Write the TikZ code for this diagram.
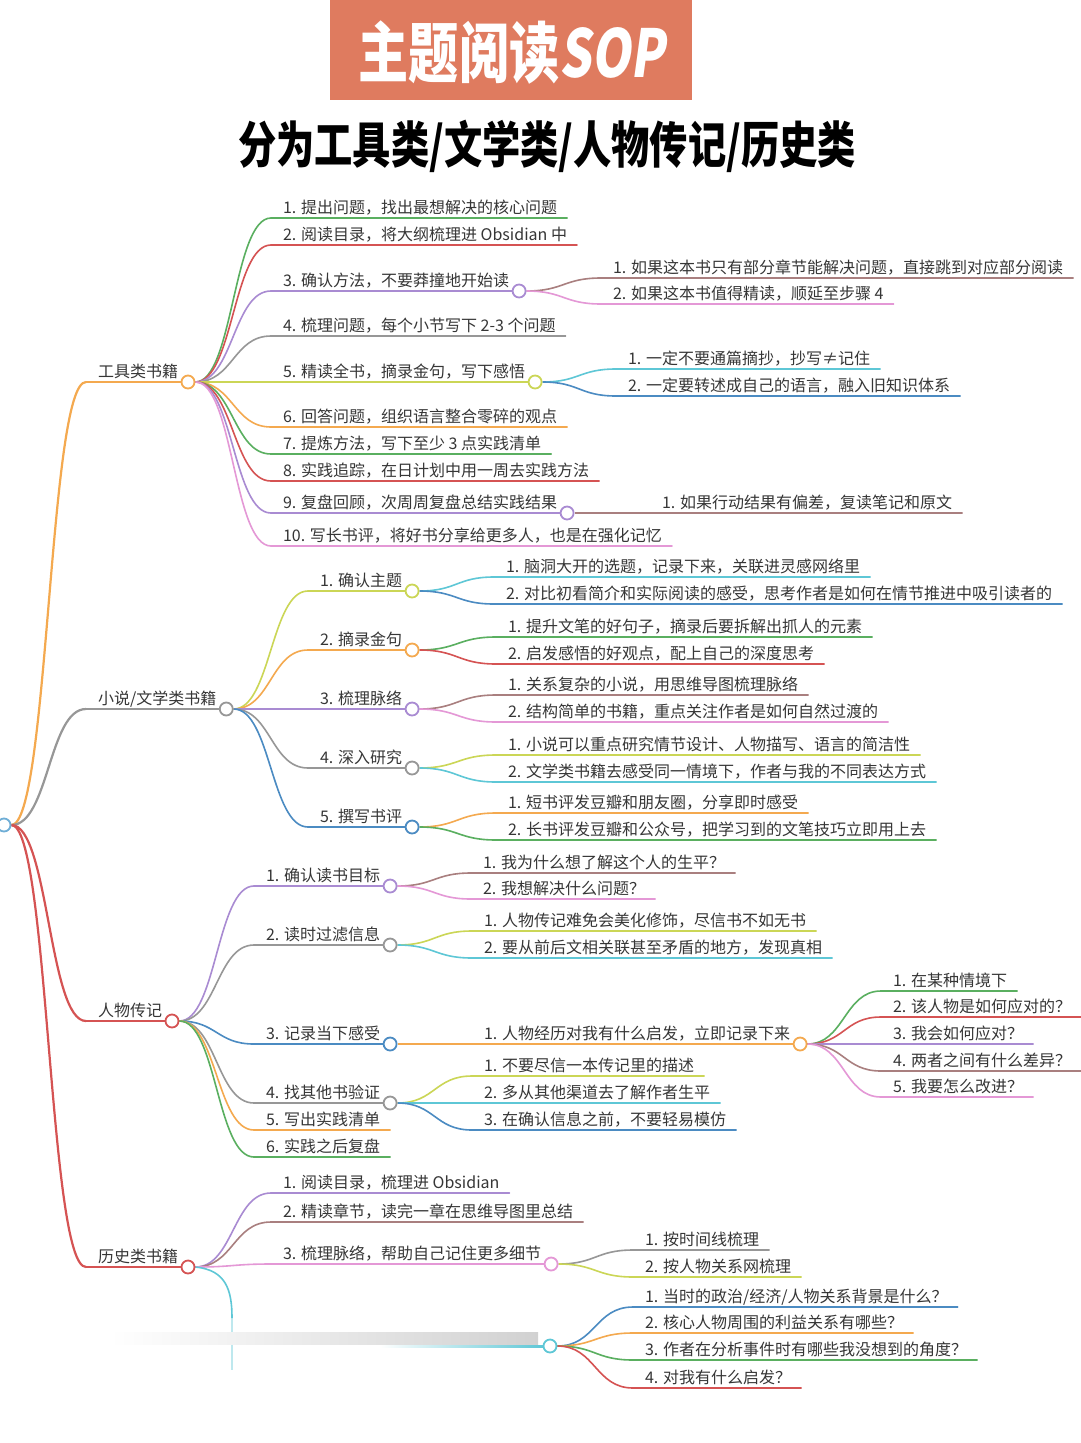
\documentclass[tikz,border=0pt]{standalone}
\usepackage{fontspec}
\newfontfamily\cjk{Noto Sans CJK SC}
\newfontfamily\cjksl{Noto Sans CJK SC}[FakeSlant=0.18]
\usetikzlibrary{calc}
\pgfdeclarelayer{back}
\pgfdeclarelayer{bg}
\pgfsetlayers{back,bg,main}
\definecolor{txt}{HTML}{363636}
\definecolor{titlebg}{HTML}{DF7B5F}
\definecolor{croot}{HTML}{6FAED6}
\definecolor{cgreen}{HTML}{5AAF60}
\definecolor{cred}{HTML}{D55353}
\definecolor{cpurple}{HTML}{A98BD2}
\definecolor{cgray}{HTML}{979797}
\definecolor{clime}{HTML}{CBD656}
\definecolor{corange}{HTML}{F4A94F}
\definecolor{cpink}{HTML}{E498D6}
\definecolor{cbrown}{HTML}{A97F7F}
\definecolor{ccyan}{HTML}{5EC7D6}
\definecolor{cblue}{HTML}{4B8BC2}
\tikzset{
  lbl/.style={anchor=base west, inner sep=0pt, outer sep=0pt, text=txt, font=\cjk\fontsize{16}{16}\selectfont},
  dot/.style={circle, minimum size=13pt, inner sep=0pt, line width=1.8pt, fill=white},
  ul/.style={line width=1.6pt, line cap=round},
  cnl/.style={line width=1.6pt},
  cnr/.style={line width=2.2pt},
}
% leaf: name, xstart, yline, colour, text
\newcommand\lf[5]{%
  \coordinate (#1s) at (#2,#3);
  \node[lbl] (#1) at (#2+12,#3-5) {#5};
  \coordinate (#1e) at ($(#1.east |- #1s)+(10,0)$);
  \begin{pgfonlayer}{bg}\draw[ul,#4] (#1s) -- (#1e);\end{pgfonlayer}}
% branch with circle: name, xstart, yline, colour, text
\newcommand\br[5]{%
  \coordinate (#1s) at (#2,#3);
  \node[lbl] (#1) at (#2+12,#3-5) {#5};
  \node[dot,draw=#4] (#1c) at ($(#1.east |- #1s)+(10,0)$) {};
  \begin{pgfonlayer}{bg}\draw[ul,#4] (#1s) -- (#1c);\end{pgfonlayer}}
% connector: from, to, style
\newcommand\cn[3]{%
  \begin{pgfonlayer}{bg}\draw[cnl,#3] let \p1=(#1), \p2=(#2) in
  (\p1) .. controls ({(\x1+\x2)/2},\y1) and ({(\x1+\x2)/2},\y2) .. (\p2);\end{pgfonlayer}}
\begin{document}
\begin{tikzpicture}[x=1pt,y=-1pt]
\begin{pgfonlayer}{back}
\fill[white] (0,0) rectangle (1080,1443);
\end{pgfonlayer}
\useasboundingbox (0,0) rectangle (1080,1443);
% title
\fill[titlebg] (330,0) rectangle (692,100);
\node[text=white, font=\cjk\bfseries\fontsize{66}{66}\selectfont, inner sep=0pt] (title) at (512,53)
  {\scalebox{0.76}[1]{主题阅读{\cjksl\bfseries SOP}}};
\node[text=black, font=\cjk\bfseries\fontsize{50}{50}\selectfont, inner sep=0pt] (subtitle) at (547,146)
  {\scalebox{0.765}[1]{分为工具类/文学类/人物传记/历史类}};
% root
\node[dot,draw=croot] (R) at (4,825) {};
% level 1
\br{A}{86}{382}{corange}{工具类书籍}
\br{B}{86}{709}{cgray}{小说/文学类书籍}
\br{C}{86}{1021}{cred}{人物传记}
\br{D}{86}{1267}{cred}{历史类书籍}
\cn{R.east}{As}{corange,cnr}
\cn{R.east}{Bs}{cgray,cnr}
\cn{R.east}{Cs}{cred,cnr}
\cn{R.east}{Ds}{cred,cnr}
% ---- A: tools
\lf{A1}{271}{218}{cgreen}{1. 提出问题，找出最想解决的核心问题}
\lf{A2}{271}{245}{cred}{2. 阅读目录，将大纲梳理进 Obsidian 中}
\br{A3}{271}{291}{cpurple}{3. 确认方法，不要莽撞地开始读}
\lf{A4}{271}{336}{cgray}{4. 梳理问题，每个小节写下 2-3 个问题}
\br{A5}{271}{382}{clime}{5. 精读全书，摘录金句，写下感悟}
\lf{A6}{271}{427}{corange}{6. 回答问题，组织语言整合零碎的观点}
\lf{A7}{271}{454}{cgreen}{7. 提炼方法，写下至少 3 点实践清单}
\lf{A8}{271}{481}{cred}{8. 实践追踪，在日计划中用一周去实践方法}
\br{A9}{271}{513}{cpurple}{9. 复盘回顾，次周周复盘总结实践结果}
\lf{A10}{271}{546}{cpink}{10. 写长书评，将好书分享给更多人，也是在强化记忆}
\cn{Ac.east}{A1s}{cgreen}
\cn{Ac.east}{A2s}{cred}
\cn{Ac.east}{A3s}{cpurple}
\cn{Ac.east}{A4s}{cgray}
\cn{Ac.east}{A5s}{clime}
\cn{Ac.east}{A6s}{corange}
\cn{Ac.east}{A7s}{cgreen}
\cn{Ac.east}{A8s}{cred}
\cn{Ac.east}{A9s}{cpurple}
\cn{Ac.east}{A10s}{cpink}
\lf{A3a}{601}{278}{cbrown}{1. 如果这本书只有部分章节能解决问题，直接跳到对应部分阅读}
\lf{A3b}{601}{304}{cpink}{2. 如果这本书值得精读，顺延至步骤 4}
\cn{A3c.east}{A3as}{cbrown}
\cn{A3c.east}{A3bs}{cpink}
\lf{A5a}{616}{369}{ccyan}{1. 一定不要通篇摘抄，抄写≠记住}
\lf{A5b}{616}{396}{cblue}{2. 一定要转述成自己的语言，融入旧知识体系}
\cn{A5c.east}{A5as}{ccyan}
\cn{A5c.east}{A5bs}{cblue}
\lf{A9a}{650}{513}{cbrown}{1. 如果行动结果有偏差，复读笔记和原文}
\cn{A9c.east}{A9as}{cbrown}
% ---- B: fiction
\br{B1}{308}{591}{clime}{1. 确认主题}
\br{B2}{308}{650}{corange}{2. 摘录金句}
\br{B3}{308}{709}{cpurple}{3. 梳理脉络}
\br{B4}{308}{768}{cgray}{4. 深入研究}
\br{B5}{308}{827}{cblue}{5. 撰写书评}
\cn{Bc.east}{B1s}{clime}
\cn{Bc.east}{B2s}{corange}
\cn{Bc.east}{B3s}{cpurple}
\cn{Bc.east}{B4s}{cgray}
\cn{Bc.east}{B5s}{cblue}
\lf{B1a}{494}{577}{ccyan}{1. 脑洞大开的选题，记录下来，关联进灵感网络里}
\lf{B1b}{494}{604}{cblue}{2. 对比初看简介和实际阅读的感受，思考作者是如何在情节推进中吸引读者的}
\cn{B1c.east}{B1as}{ccyan}
\cn{B1c.east}{B1bs}{cblue}
\lf{B2a}{496}{637}{cgreen}{1. 提升文笔的好句子，摘录后要拆解出抓人的元素}
\lf{B2b}{496}{664}{cred}{2. 启发感悟的好观点，配上自己的深度思考}
\cn{B2c.east}{B2as}{cgreen}
\cn{B2c.east}{B2bs}{cred}
\lf{B3a}{496}{695}{cbrown}{1. 关系复杂的小说，用思维导图梳理脉络}
\lf{B3b}{496}{722}{cpink}{2. 结构简单的书籍，重点关注作者是如何自然过渡的}
\cn{B3c.east}{B3as}{cbrown}
\cn{B3c.east}{B3bs}{cpink}
\lf{B4a}{496}{755}{clime}{1. 小说可以重点研究情节设计、人物描写、语言的简洁性}
\lf{B4b}{496}{782}{ccyan}{2. 文学类书籍去感受同一情境下，作者与我的不同表达方式}
\cn{B4c.east}{B4as}{clime}
\cn{B4c.east}{B4bs}{ccyan}
\lf{B5a}{496}{813}{corange}{1. 短书评发豆瓣和朋友圈，分享即时感受}
\lf{B5b}{496}{840}{cgreen}{2. 长书评发豆瓣和公众号，把学习到的文笔技巧立即用上去}
\cn{B5c.east}{B5as}{corange}
\cn{B5c.east}{B5bs}{cgreen}
% ---- C: biography
\br{C1}{254}{886}{cpurple}{1. 确认读书目标}
\br{C2}{254}{945}{cgray}{2. 读时过滤信息}
\br{C3}{254}{1044}{cblue}{3. 记录当下感受}
\br{C4}{254}{1103}{cgray}{4. 找其他书验证}
\lf{C5}{254}{1130}{corange}{5. 写出实践清单}
\lf{C6}{254}{1157}{cgreen}{6. 实践之后复盘}
\cn{Cc.east}{C1s}{cpurple}
\cn{Cc.east}{C2s}{cgray}
\cn{Cc.east}{C3s}{cblue}
\cn{Cc.east}{C4s}{cgray}
\cn{Cc.east}{C5s}{corange}
\cn{Cc.east}{C6s}{cgreen}
\lf{C1a}{471}{873}{cbrown}{1. 我为什么想了解这个人的生平？}
\lf{C1b}{471}{899}{cpink}{2. 我想解决什么问题？}
\cn{C1c.east}{C1as}{cbrown}
\cn{C1c.east}{C1bs}{cpink}
\lf{C2a}{472}{931}{clime}{1. 人物传记难免会美化修饰，尽信书不如无书}
\lf{C2b}{472}{958}{ccyan}{2. 要从前后文相关联甚至矛盾的地方，发现真相}
\cn{C2c.east}{C2as}{clime}
\cn{C2c.east}{C2bs}{ccyan}
\br{C3a}{472}{1044}{corange}{1. 人物经历对我有什么启发，立即记录下来}
\cn{C3c.east}{C3as}{corange}
\lf{C3a1}{881}{991}{cgreen}{1. 在某种情境下}
\lf{C3a2}{881}{1017}{cred}{2. 该人物是如何应对的？}
\lf{C3a3}{881}{1044}{cpurple}{3. 我会如何应对？}
\lf{C3a4}{881}{1071}{cbrown}{4. 两者之间有什么差异？}
\lf{C3a5}{881}{1097}{cpink}{5. 我要怎么改进？}
\cn{C3ac.east}{C3a1s}{cgreen}
\cn{C3ac.east}{C3a2s}{cred}
\cn{C3ac.east}{C3a3s}{cpurple}
\cn{C3ac.east}{C3a4s}{cbrown}
\cn{C3ac.east}{C3a5s}{cpink}
\lf{C4a}{472}{1076}{clime}{1. 不要尽信一本传记里的描述}
\lf{C4b}{472}{1103}{ccyan}{2. 多从其他渠道去了解作者生平}
\lf{C4c1}{472}{1130}{cblue}{3. 在确认信息之前，不要轻易模仿}
\cn{C4c.east}{C4as}{clime}
\cn{C4c.east}{C4bs}{ccyan}
\cn{C4c.east}{C4c1s}{cblue}
% ---- D: history
\lf{D1}{271}{1193}{cpurple}{1. 阅读目录，梳理进 Obsidian}
\lf{D2}{271}{1222}{cbrown}{2. 精读章节，读完一章在思维导图里总结}
\br{D3}{271}{1264}{cpink}{3. 梳理脉络，帮助自己记住更多细节}
\cn{Dc.east}{D1s}{cpurple}
\cn{Dc.east}{D2s}{cbrown}
\cn{Dc.east}{D3s}{cpink}
\lf{D3a}{633}{1250}{cgray}{1. 按时间线梳理}
\lf{D3b}{633}{1277}{clime}{2. 按人物关系网梳理}
\cn{D3c.east}{D3as}{cgray}
\cn{D3c.east}{D3bs}{clime}
% obscured fourth branch
\coordinate (D4s) at (232,1318);
\coordinate (D4f) at (232,1370);
\node[dot,draw=ccyan] (D4c) at (550,1346) {};
\begin{pgfonlayer}{bg}
\draw[ccyan,cnl] (Dc.east) .. controls (226,1270) and (232,1290) .. (D4s);
\draw[ccyan,cnl,opacity=0.4] (D4s) -- (D4f);
\shade[left color=white, right color=ccyan] (380,1345) rectangle (543,1347.2);
\end{pgfonlayer}
\shade[left color=white, right color=black!18] (110,1332) rectangle (538,1344);
\lf{D4a}{633}{1307}{cblue}{1. 当时的政治/经济/人物关系背景是什么？}
\lf{D4b}{633}{1333}{corange}{2. 核心人物周围的利益关系有哪些？}
\lf{D4c1}{633}{1360}{cgreen}{3. 作者在分析事件时有哪些我没想到的角度？}
\lf{D4d}{633}{1388}{cred}{4. 对我有什么启发？}
\cn{D4c.east}{D4as}{cblue}
\cn{D4c.east}{D4bs}{corange}
\cn{D4c.east}{D4c1s}{cgreen}
\cn{D4c.east}{D4ds}{cred}
\end{tikzpicture}
\end{document}
